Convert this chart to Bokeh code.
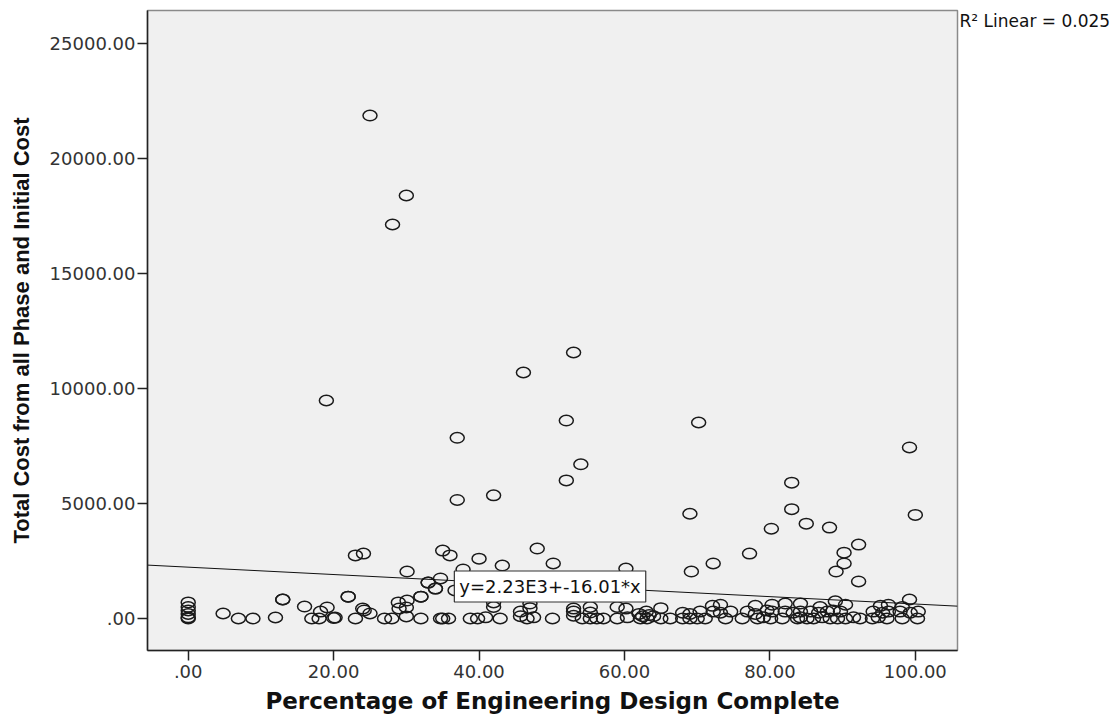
from bokeh.plotting import figure
from bokeh.models import Range1d, FixedTicker, Label, ColumnDataSource, LinearAxis
from bokeh.embed import file_html
from bokeh.resources import INLINE

# Percentage of engineering design complete (x) and total cost (y)
pct_complete = [
    # x = 0 group
    0, 0, 0, 0, 0, 0,
    # 0-35 %
    4.8, 6.9, 8.9, 12, 13, 16, 17, 18, 18.2, 19.1, 20, 20.2, 22, 23, 24, 24.2, 25,
    27, 28, 28.9, 29, 30.1, 30, 30, 32, 32, 33, 34, 35, 35.8,
    # 35-70 % low values
    34.7, 38.8, 39.8, 40.9, 42.9, 45.7, 46.6, 47.5, 50.1, 53, 54.2, 55.3, 56.2,
    57.1, 59, 60.4, 62.2, 62.5, 63.1, 63.4, 65, 66.3, 42, 47, 45.7, 53, 55.3, 53,
    55.3, 59, 60.2, 65, 62, 63, 64, 68, 68, 69, 69, 70,
    # 70-100 % low values
    71.1, 73.9, 76.2, 78.3, 79.1, 80.1, 81.7, 83.8, 84.2, 85.1, 86, 87.2, 88.3,
    89.3, 90.4, 91.5, 92.4, 94.1, 94.9, 96.1, 98.2, 100.3,
    70.4, 72.2, 73.2, 74.6, 76.9, 78, 79.6, 80.3, 82.1, 83.2, 84.2, 85.6, 86.7,
    87.9, 88.7, 89.7, 94.2, 95.5, 96.3, 97.9, 99.3, 100.4,
    72.1, 73.2, 78, 80.3, 82.1, 84.2, 86.9, 89, 90.4, 95.2, 96.3, 98.2, 99.2,
    # higher costs
    25, 30, 28.1, 19, 46.1, 53, 37, 52, 70.2, 54, 52, 37, 42, 69, 83, 83, 85,
    80.2, 88.2, 77.2, 90.2, 90.2, 89.1, 92.2, 92.2, 99.2, 100, 72.2, 69.2, 60.2,
    48, 50.2, 40, 43.2, 37.8, 35, 36, 34.7, 34, 33, 32, 30.1, 23, 24.1, 22, 13,
    36.7, 42, 47,
]
total_cost = [
    700, 500, 350, 200, 50, 0,
    217, 0, 0, 43, 825, 520, 0, 0, 300, 480, 20, 40, 950, 0, 430, 350, 220,
    0, 0, 700, 430, 780, 480, 90, 950, 0, 1560, 1300, 0, 0,
    0, 0, 0, 50, 0, 300, 0, 50, 0, 300, 0, 260, 0,
    0, 0, 50, 0, 100, 0, 150, 0, 0, 500, 450, 100, 430, 500, 120,
    0, 500, 430, 450, 200, 300, 100, 0, 250, 0, 200, 0,
    0, 0, 0, 0, 50, 0, 0, 0, 50, 0, 0, 50, 0,
    0, 0, 50, 0, 0, 50, 0, 0, 0,
    300, 300, 250, 300, 300, 200, 350, 300, 300, 250, 300, 300, 250,
    300, 350, 300, 300, 250, 300, 300, 250, 300,
    550, 600, 550, 600, 650, 650, 500, 750, 600, 550, 600, 500, 825,
    21850, 18375, 17116, 9470, 10686, 11555, 7850, 8600, 8514, 6700, 6000, 5150,
    5350, 4550, 5900, 4750, 4120, 3900, 3950, 2820, 2860, 2390, 2040, 3210, 1610,
    7430, 4500, 2390, 2040, 2170, 3040, 2390, 2600, 2300, 2130, 2950, 2740, 1740,
    1300, 1560, 950, 2040, 2740, 2820, 950, 825, 1220, 700, 650,
]

# Linear fit reported for the data
fit_intercept = 2230.0
fit_slope = -16.01
fit_text = "y=2.23E3+-16.01*x"
r2_text = "R\u00b2 Linear = 0.025"

x_ticks = [0, 20, 40, 60, 80, 100]
x_tick_labels = [".00", "20.00", "40.00", "60.00", "80.00", "100.00"]
y_ticks = [0, 5000, 10000, 15000, 20000, 25000]
y_tick_labels = [".00", "5000.00", "10000.00", "15000.00", "20000.00", "25000.00"]

x_lo, x_hi = -5.6, 105.8
y_lo, y_hi = -1390, 26412

p = figure(
    width=1115, height=719,
    x_range=Range1d(x_lo, x_hi), y_range=Range1d(y_lo, y_hi),
    output_backend="svg", toolbar_location=None,
    min_border_left=147, min_border_right=158,
    min_border_top=10, min_border_bottom=69,
    background_fill_color="#F0F0F0", border_fill_color="white",
    outline_line_color="#8a8a8a", outline_line_width=1.5,
)
p.grid.visible = False

p.xaxis.ticker = FixedTicker(ticks=x_ticks)
p.xaxis.major_label_overrides = dict(zip(x_ticks, x_tick_labels))
p.yaxis.ticker = FixedTicker(ticks=y_ticks)
p.yaxis.major_label_overrides = dict(zip(y_ticks, y_tick_labels))

for ax in (p.xaxis, p.yaxis):
    ax.axis_line_color = "#222222"
    ax.axis_line_width = 1.5
    ax.major_tick_line_color = "#222222"
    ax.major_tick_line_width = 1.5
    ax.major_tick_in = 0
    ax.major_tick_out = 10
    ax.minor_tick_out = 0
    ax.minor_tick_in = 0
    ax.major_label_text_font = "DejaVu Sans"
    ax.major_label_text_font_size = "18px"
    ax.major_label_text_color = "#333333"
    ax.axis_label_text_color = "#111111"
    ax.axis_label_text_font_style = "bold"

p.xaxis.axis_label = "Percentage of Engineering Design Complete"
p.xaxis.axis_label_text_font = "DejaVu Sans"
p.xaxis.axis_label_text_font_size = "23px"
p.xaxis.major_label_standoff = 4
p.xaxis.axis_label_standoff = 7

p.yaxis.axis_label = "Total Cost from all Phase and Initial Cost"
p.yaxis.axis_label_text_font = "Liberation Sans"
p.yaxis.axis_label_text_font_size = "22px"
p.yaxis.major_label_standoff = 2
p.yaxis.axis_label_standoff = 13

# R-squared note printed just outside the top right corner of the frame
r2_axis = LinearAxis(
    ticker=FixedTicker(ticks=[25977]),
    major_label_overrides={25977: r2_text},
    axis_line_color=None, major_tick_line_color=None,
    minor_tick_line_color=None, major_tick_out=0, major_tick_in=0,
    major_label_standoff=2,
    major_label_text_font="DejaVu Sans", major_label_text_font_size="17px",
    major_label_text_color="#111111",
)
p.add_layout(r2_axis, "right")

src = ColumnDataSource(data=dict(x=pct_complete, y=total_cost))
p.ellipse(
    x="x", y="y", source=src,
    width=14, height=10.5, width_units="screen", height_units="screen",
    fill_color=None, line_color="#1a1a1a", line_width=1.5,
)

# Fitted regression line across the full x range
fx = [x_lo, x_hi]
fy = [fit_intercept + fit_slope * v for v in fx]
p.line(fx, fy, line_color="#111111", line_width=1)

eq = Label(
    x=36.6, y=1390, text=fit_text, text_baseline="middle",
    text_font="DejaVu Sans", text_font_size="18px", text_color="#111111",
    background_fill_color="white", border_line_color="#333333",
    border_line_width=1.2, padding=5,
)
p.add_layout(eq)

open("out.html", "w").write(file_html(p, INLINE))
